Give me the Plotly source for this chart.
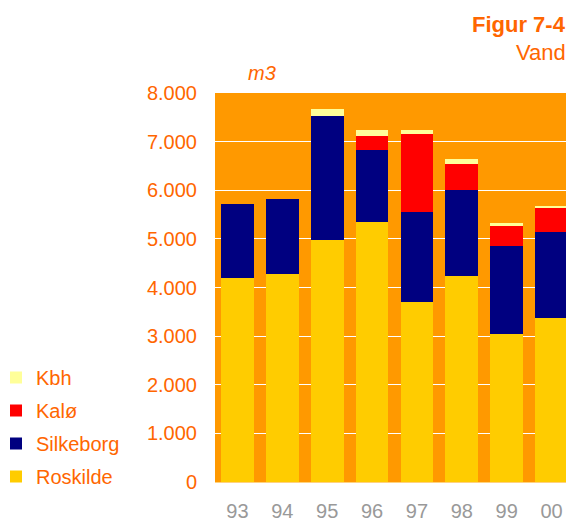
import plotly.graph_objects as go

years = ["93", "94", "95", "96", "97", "98", "99", "00"]
roskilde = [4200, 4280, 4980, 5350, 3700, 4240, 3045, 3375]
silkeborg = [1520, 1540, 2550, 1480, 1855, 1770, 1810, 1770]
kalo = [0, 0, 0, 290, 1605, 535, 410, 495]
kbh = [0, 0, 145, 125, 85, 105, 60, 40]

series = [
    ("Roskilde", roskilde, "#FFCC00"),
    ("Silkeborg", silkeborg, "#000080"),
    ("Kalø", kalo, "#FF0000"),
    ("Kbh", kbh, "#FFFF99"),
]

ORANGE_TXT = "#FF6600"
FONT = "Liberation Sans, Arial, sans-serif"

# page body has an 8px margin; the figure is sized to fill the rest
W, H = 566, 514
ML, MR, MT, MB = 207, 0, 85, 40
PW, PH = W - ML - MR, H - MT - MB

fig = go.Figure()
for i, (name, vals, col) in enumerate(series):
    fig.add_trace(go.Bar(x=years, y=vals, name=name, marker_color=col,
                         marker_line_width=0, legendgroup=name,
                         legendrank=len(series) - i))

fig.update_layout(
    width=W, height=H,
    barmode="stack", bargap=0.27,
    plot_bgcolor="#FF9900", paper_bgcolor="white",
    separators=",.",
    margin=dict(l=ML, r=MR, t=MT, b=MB, autoexpand=False),
    font=dict(family=FONT, size=20, color=ORANGE_TXT),
    legend=dict(
        xref="paper", yref="paper",
        x=(-4 - 8 - ML) / PW, y=(482 - 358) / PH, xanchor="left", yanchor="top",
        traceorder="grouped", font=dict(size=20, color=ORANGE_TXT),
        itemwidth=30, tracegroupgap=4,
        bgcolor="rgba(0,0,0,0)",
    ),
    xaxis=dict(
        tickfont=dict(color="#999999", size=20),
        showgrid=False, ticks="", ticklabelstandoff=11,
        showline=True, linecolor="#FFD27F", linewidth=1,
    ),
    yaxis=dict(
        range=[0, 8000], tickvals=[0, 1000, 2000, 3000, 4000, 5000, 6000, 7000, 8000],
        tickformat=",d", showgrid=True, gridcolor="white", gridwidth=1,
        tickfont=dict(color=ORANGE_TXT, size=20), ticklabelstandoff=17,
        zeroline=False,
    ),
    annotations=[
        dict(text="<b>Figur 7-4</b>", xref="paper", yref="paper", x=1, y=1,
             xanchor="right", yanchor="middle", yshift=69, xshift=-6,
             showarrow=False, font=dict(size=22, color=ORANGE_TXT)),
        dict(text="Vand", xref="paper", yref="paper", x=1, y=1,
             xanchor="right", yanchor="middle", yshift=41, xshift=-6,
             showarrow=False, font=dict(size=22, color=ORANGE_TXT)),
        dict(text="<i>m3</i>", xref="paper", yref="paper", x=0, y=1,
             xanchor="left", yanchor="middle", yshift=20, xshift=31,
             showarrow=False, font=dict(size=20, color=ORANGE_TXT)),
    ],
)

fig.write_html("out.html")
